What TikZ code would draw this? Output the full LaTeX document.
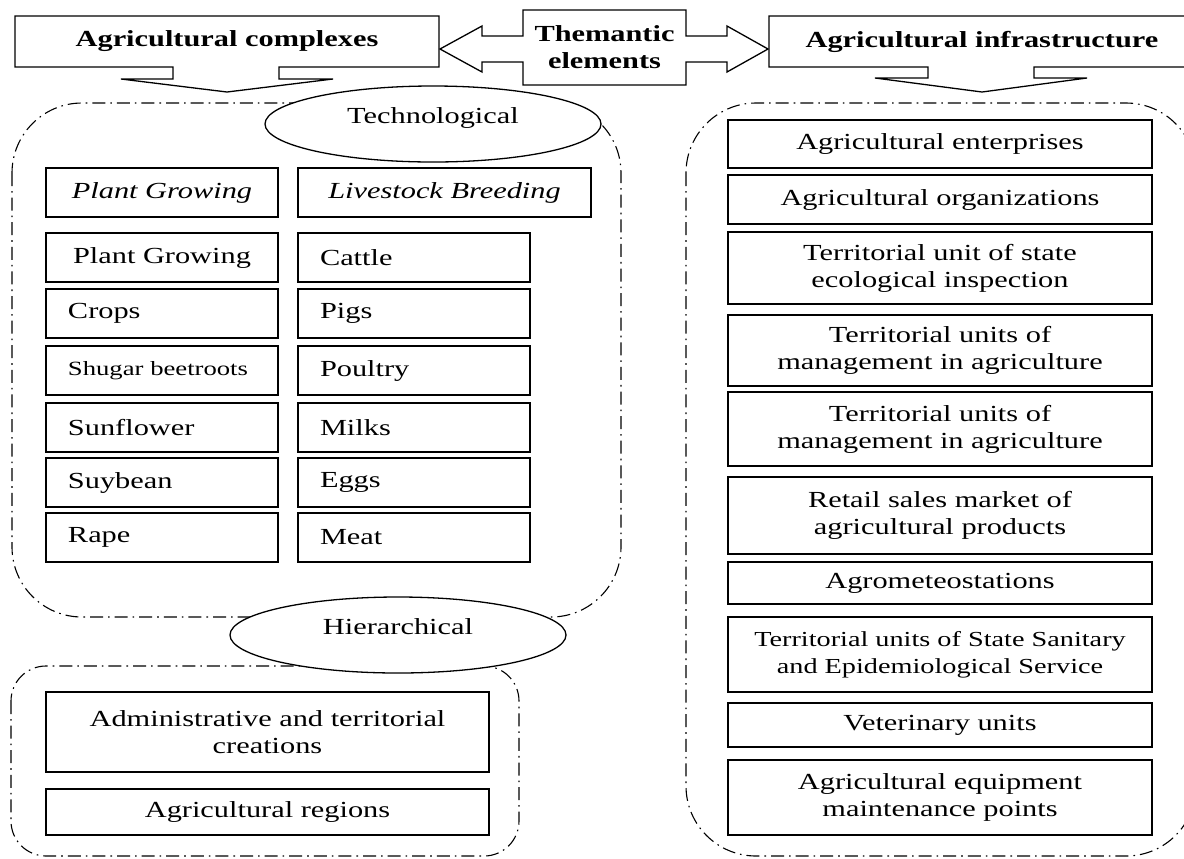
\documentclass[tikz,border=0pt]{standalone}
\usepackage{fontspec}
\setmainfont{Liberation Serif}[FakeStretch=1.32]
\usetikzlibrary{shapes.geometric}

% box given by its corners (x1,y1) (x2,y2), in pixel units
\newcommand{\placebox}[7][]{%
  \node[cell,#1,minimum width={(#5-#3)*0.5pt},minimum height={(#6-#4)*0.5pt}]
    (#2) at ({(#3+#5)/2},{(#4+#6)/2}) {#7};}

\begin{document}
\begin{tikzpicture}[x=0.5pt,y=-0.5pt,
  every node/.style={font=\fontsize{11.5}{13.4}\selectfont},
  cell/.style={draw,line width=0.65pt,inner sep=0pt,align=center},
  lcell/.style={cell,align=left,text width=94pt,inner xsep=11pt},
  oval/.style={draw,ellipse,line width=0.65pt,fill=white,inner sep=0pt,
    minimum width=168pt,minimum height=38pt,text height=6pt,text depth=7pt},
  zone/.style={line width=0.55pt,dash pattern=on 6.5pt off 2.5pt on 0.8pt off 2.5pt},
  callout/.style={draw,line width=0.65pt,line join=miter},
  title/.style={font=\fontsize{11.5}{13.4}\selectfont\bfseries,align=center,inner sep=0pt}
]
\useasboundingbox (0,0) rectangle (1184,858);

% grouping zones
\draw[zone,rounded corners=35pt] (12,103) rectangle (621,617);
\draw[zone,rounded corners=17.5pt] (11,666) rectangle (519,856);
\draw[zone,rounded corners=35pt] (686,103) rectangle (1196,856);

% technological classification
\placebox{pghead}{46}{168}{278}{217}{\itshape Plant Growing}
\placebox{lbhead}{298}{168}{591}{217}{\itshape Livestock Breeding}

\placebox{plant}{46}{233}{278}{282}{Plant Growing}
\placebox[lcell]{crops}{46}{289}{278}{338}{Crops}
\placebox[lcell,font=\fontsize{10.1}{12}\selectfont]{sugar}{46}{346}{278}{395}{Shugar beetroots}
\placebox[lcell]{sunflower}{46}{403}{278}{452}{Sunflower}
\placebox[lcell]{soybean}{46}{458}{278}{507}{Suybean}
\placebox[lcell]{rape}{46}{513}{278}{562}{Rape}

\placebox[lcell]{cattle}{298}{233}{530}{282}{Cattle}
\placebox[lcell]{pigs}{298}{289}{530}{338}{Pigs}
\placebox[lcell]{poultry}{298}{346}{530}{395}{Poultry}
\placebox[lcell]{milks}{298}{403}{530}{452}{Milks}
\placebox[lcell]{eggs}{298}{458}{530}{507}{Eggs}
\placebox[lcell]{meat}{298}{513}{530}{562}{Meat}

% hierarchical classification
\placebox{admin}{46}{692}{489}{772}{Administrative and territorial\\creations}
\placebox{regions}{46}{789}{489}{835}{Agricultural regions}

% infrastructure objects
\placebox{enterprises}{728}{120}{1152}{168}{Agricultural enterprises}
\placebox{organizations}{728}{175}{1152}{224}{Agricultural organizations}
\placebox{ecology}{728}{232}{1152}{304}{Territorial unit of state\\ecological inspection}
\placebox{mgmtA}{728}{315}{1152}{386}{Territorial units of\\management in agriculture}
\placebox{mgmtB}{728}{392}{1152}{466}{Territorial units of\\management in agriculture}
\placebox{retail}{728}{477}{1152}{554}{Retail sales market of\\agricultural products}
\placebox{meteo}{728}{562}{1152}{604}{Agrometeostations}
\placebox[font=\fontsize{10.7}{13.4}\selectfont]{sanitary}{728}{617}{1152}{692}{Territorial units of State Sanitary\\and Epidemiological Service}
\placebox{vet}{728}{703}{1152}{747}{Veterinary units}
\placebox{equipment}{728}{760}{1152}{835}{Agricultural equipment\\maintenance points}

% classification labels
\node[oval] (tech) at (433,124) {Technological};
\node[oval] (hier) at (398,635) {Hierarchical};

% headline callouts
\draw[callout] (173,67) -- (15,67) -- (15,16) -- (439,16) -- (439,67) -- (279,67)
  -- (279,79) -- (333,79) -- (227,92) -- (121,79) -- (173,79) -- cycle;
\node[title] (complexes) at (227,41.5) {Agricultural complexes};

\draw[callout] (523,10) -- (686,10) -- (686,36) -- (727,36) -- (727,26) -- (768,49)
  -- (727,72) -- (727,62) -- (686,62) -- (686,85) -- (523,85) -- (523,62)
  -- (482,62) -- (482,72) -- (440,49) -- (482,26) -- (482,36) -- (523,36) -- cycle;
\node[title] (thematic) at (604.5,47) {Themantic\\elements};

\draw[callout] (928,67) -- (769,67) -- (769,16) -- (1196,16) -- (1196,67) -- (1034,67)
  -- (1034,78) -- (1087,78) -- (982,92) -- (875,78) -- (928,78) -- cycle;
\node[title] (infra) at (982,41.5) {Agricultural infrastructure};
\end{tikzpicture}
\end{document}
